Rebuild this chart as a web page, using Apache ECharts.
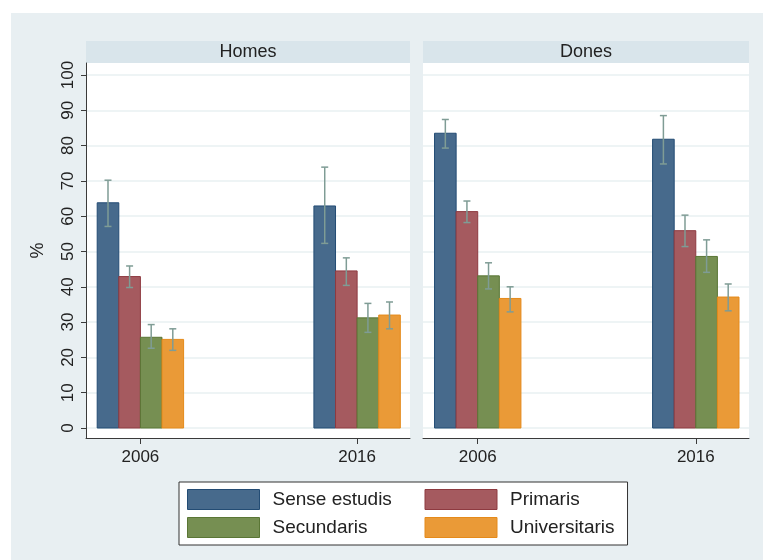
<!DOCTYPE html>
<html>
<head>
<meta charset="utf-8">
<script src="https://cdn.jsdelivr.net/npm/echarts@6/dist/echarts.min.js"></script>
<style>
html,body{margin:0;padding:0;background:#ffffff;}
#c{width:763px;height:560px;}
</style>
</head>
<body>
<div id="c"></div>
<script>
// ---------- data ----------
const years = [2006, 2016];
const panels = ['Homes', 'Dones'];
const levels = ['Sense estudis', 'Primaris', 'Secundaris', 'Universitaris'];
const yTicks = [0, 10, 20, 30, 40, 50, 60, 70, 80, 90, 100];

// Homes
const homesSense = [63.8, 62.9];
const homesSenseCI = [[57.1, 70.2], [52.3, 73.9]];
const homesPrim = [42.9, 44.5];
const homesPrimCI = [[39.8, 45.9], [40.4, 48.2]];
const homesSec = [25.7, 31.2];
const homesSecCI = [[22.6, 29.3], [27.1, 35.3]];
const homesUniv = [25.1, 32.0];
const homesUnivCI = [[22.0, 28.1], [28.1, 35.7]];

// Dones
const donesSense = [83.5, 81.8];
const donesSenseCI = [[79.3, 87.4], [74.8, 88.5]];
const donesPrim = [61.3, 55.9];
const donesPrimCI = [[58.2, 64.3], [51.4, 60.3]];
const donesSec = [43.1, 48.6];
const donesSecCI = [[39.4, 46.8], [44.1, 53.3]];
const donesUniv = [36.7, 37.1];
const donesUnivCI = [[32.9, 40.0], [33.2, 40.8]];

// ---------- styles ----------
const FONT = "'Liberation Sans', Arial, sans-serif";
const fills = ['#476a8c', '#a55a5f', '#768f52', '#ea9a37'];
const strokes = ['#234c74', '#8e3a40', '#5a7635', '#e58a1a'];
const ERR = '#7f9c95';
const BAR_W = 21.6;
const CAP = 3.5;
const AXIS_COL = '#3a3a3a';
const GRID_COL = '#e9f0f2';

const panelData = [
  [[homesSense, homesSenseCI], [homesPrim, homesPrimCI], [homesSec, homesSecCI], [homesUniv, homesUnivCI]],
  [[donesSense, donesSenseCI], [donesPrim, donesPrimCI], [donesSec, donesSecCI], [donesUniv, donesUnivCI]]
];

function makeRender(idx) {
  return function (params, api) {
    const x = api.value(0), v = api.value(1), lo = api.value(2), hi = api.value(3);
    const top = api.coord([x, v]);
    const base = api.coord([x, 0]);
    const pLo = api.coord([x, lo]);
    const pHi = api.coord([x, hi]);
    const cx = top[0] + (idx - 1.5) * BAR_W;
    return {
      type: 'group',
      children: [
        { type: 'rect', shape: { x: cx - BAR_W / 2, y: top[1], width: BAR_W, height: base[1] - top[1] },
          style: { fill: fills[idx], stroke: strokes[idx], lineWidth: 1 } },
        { type: 'line', shape: { x1: cx, y1: pLo[1], x2: cx, y2: pHi[1] }, style: { stroke: ERR, lineWidth: 1.5 } },
        { type: 'line', shape: { x1: cx - CAP, y1: pHi[1], x2: cx + CAP, y2: pHi[1] }, style: { stroke: ERR, lineWidth: 1.5 } },
        { type: 'line', shape: { x1: cx - CAP, y1: pLo[1], x2: cx + CAP, y2: pLo[1] }, style: { stroke: ERR, lineWidth: 1.5 } }
      ]
    };
  };
}

const grids = [
  { left: 86, right: 353, top: 63, bottom: 122, show: true, backgroundColor: '#ffffff', borderWidth: 0 },
  { left: 423, right: 14, top: 63, bottom: 122, show: true, backgroundColor: '#ffffff', borderWidth: 0 }
];

const xAxes = grids.map((g, i) => ({
  type: 'value', gridIndex: i, min: 2003.49, max: 2018.44,
  axisLine: { show: true, onZero: false, lineStyle: { color: AXIS_COL, width: 1 } },
  axisTick: { show: true, length: 6, customValues: years, lineStyle: { color: AXIS_COL } },
  axisLabel: { customValues: years, margin: 11, fontSize: 17, color: '#222', fontFamily: FONT,
               formatter: v => String(v) },
  splitLine: { show: false }
}));

const yAxes = grids.map((g, i) => ({
  type: 'value', gridIndex: i, min: -2.83, max: 103.4,
  name: i === 0 ? '%' : '', nameLocation: 'middle', nameGap: 39, nameRotate: 90,
  nameTextStyle: { fontSize: 18, color: '#222', fontFamily: FONT },
  axisLine: { show: i === 0, lineStyle: { color: AXIS_COL, width: 1 } },
  axisTick: { show: i === 0, length: 5, customValues: yTicks, lineStyle: { color: AXIS_COL } },
  axisLabel: { show: i === 0, customValues: yTicks, rotate: 90, margin: 9, fontSize: 17, color: '#222', fontFamily: FONT },
  splitLine: { show: true, lineStyle: { color: GRID_COL, width: 1.5 } }
}));

const series = [];
panelData.forEach((pd, p) => {
  pd.forEach((pair, idx) => {
    const vals = pair[0], ci = pair[1];
    series.push({
      type: 'custom',
      name: levels[idx],
      xAxisIndex: p, yAxisIndex: p,
      renderItem: makeRender(idx),
      itemStyle: { color: fills[idx], borderColor: strokes[idx], borderWidth: 1 },
      dimensions: ['year', 'value', 'lo', 'hi'],
      encode: { x: 0, y: 1 },
      data: years.map((yr, k) => [yr, vals[k], ci[k][0], ci[k][1]])
    });
  });
});

const legendOrder = [0, 2, 1, 3];
const legendData = legendOrder.map(idx => {
  const item = {
    name: levels[idx], icon: 'rect',
    itemStyle: { color: fills[idx], borderColor: strokes[idx], borderWidth: 1 }
  };
  if (idx === 0 || idx === 2) item.textStyle = { width: 145 };
  return item;
});

const headerGraphics = [];
grids.forEach((g, i) => {
  const x = g.left;
  const w = 763 - g.right - g.left;
  headerGraphics.push({ type: 'rect', left: x, top: 41, shape: { x: 0, y: 0, width: w, height: 22 },
    style: { fill: '#d9e5eb' }, silent: true });
  headerGraphics.push({ type: 'text', x: x + w / 2, y: 52,
    style: { text: panels[i], fill: '#222', font: '18px ' + FONT, textAlign: 'center', textVerticalAlign: 'middle' },
    silent: true });
});

const option = {
  animation: false,
  backgroundColor: '#ffffff',
  graphic: [
    { type: 'rect', left: 11, top: 13, shape: { x: 0, y: 0, width: 752, height: 547 },
      style: { fill: '#e8eff2' }, silent: true, z: -10 }
  ].concat(headerGraphics),
  grid: grids,
  xAxis: xAxes,
  yAxis: yAxes,
  legend: {
    orient: 'vertical', left: 179, top: 482, height: 50,
    padding: [7, 13, 7, 8],
    backgroundColor: '#ffffff', borderColor: '#333', borderWidth: 1,
    itemWidth: 72, itemHeight: 20, itemGap: 7,
    textStyle: { fontSize: 19, color: '#222', fontFamily: FONT, lineHeight: 20, padding: [0, 0, 0, 8] },
    data: legendData,
    selectedMode: false
  },
  series: series
};

const chart = echarts.init(document.getElementById('c'), null, { renderer: 'canvas' });
chart.setOption(option);
</script>
</body>
</html>
